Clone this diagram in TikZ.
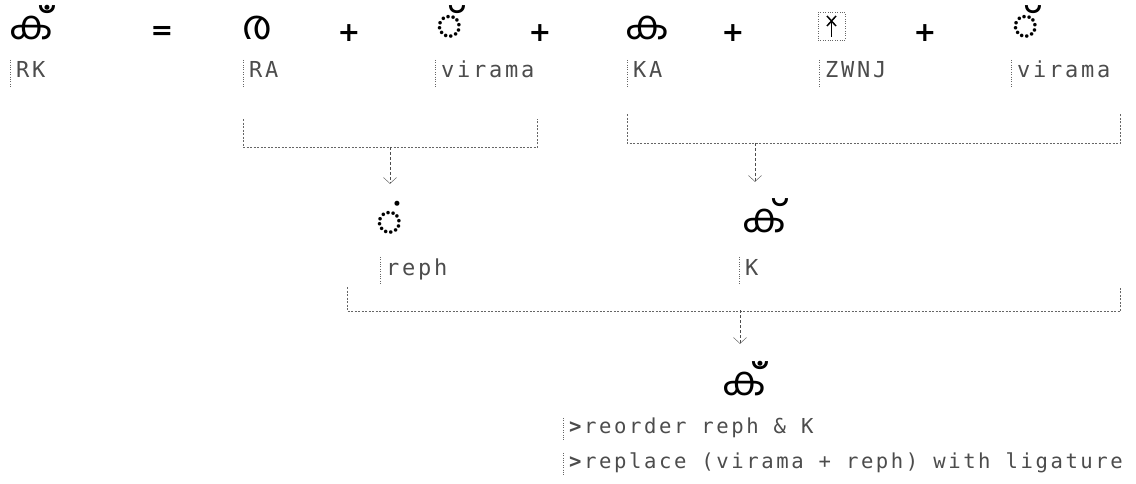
\documentclass[tikz,border=0pt]{standalone}
\usepackage{fontspec}
\usetikzlibrary{arrows.meta}
\newfontfamily\mlfont[Script=Malayalam]{Hind Kochi}
\newfontfamily\monofont[LetterSpace=12.5]{DejaVu Sans Mono}
\newfontfamily\symfont{DejaVu Sans}

\begin{document}
\begin{tikzpicture}[
    x=1pt, y=-1pt,
    glyph/.style={font=\mlfont\fontsize{40}{40}\selectfont, anchor=base west, inner sep=0pt, text height=30pt, text depth=2pt},
    op/.style={font=\symfont\bfseries\fontsize{27}{27}\selectfont, inner sep=0pt},
    lbl/.style={font=\monofont\fontsize{22}{22}\selectfont, text=black!70, anchor=base west, inner xsep=6pt, inner ysep=2pt, text height=16pt, text depth=7pt},
    note/.style={lbl, font=\monofont\fontsize{20.6}{20.6}\selectfont, text height=13pt, text depth=5pt},
    zwnj/.style={draw=black!60, dotted, minimum width=27pt, minimum height=28pt, inner sep=0pt},
    tick/.style={black!60, dotted},
    bracket/.style={black!60, dash pattern=on 2pt off 1.5pt},
    arrow/.style={black!70, dash pattern=on 3pt off 2pt, shorten >=21pt, -{Straight Barb[length=6pt,width=13pt]}}
  ]
    \useasboundingbox (0,0) rectangle (1136,484);

    % input sequence
    \node[glyph] (rk) at (9,40) {ൎക്};
    \node[op] (eq) at (162,33) {=};
    \node[glyph] (ra) at (242,40) {ര};
    \node[op] (plus1) at (349,33) {+};
    \node[glyph] (vir1) at (436,40) {◌്};
    \node[op] (plus2) at (540,33) {+};
    \node[glyph] (ka) at (625,40) {ക};
    \node[op] (plus3) at (733,33) {+};
    \node[zwnj] (zw) at (831.5,26) {};
    \node[op] (plus4) at (925,33) {+};
    \node[glyph] (vir2) at (1012,40) {◌്};
    \draw[line width=1.8pt] (zw.center) ++(0,-5) -- ++(0,16);
    \draw[line width=1.5pt] (zw.center) ++(-4.5,-10) -- ++(9,10) ++(0,-10) -- ++(-9,10);

    \node[lbl] (lrk) at (10,78) {RK};
    \node[lbl] (lra) at (243,78) {RA};
    \node[lbl] (lvir1) at (435,78) {virama};
    \node[lbl] (lka) at (627,78) {KA};
    \node[lbl] (lzw) at (819,78) {ZWNJ};
    \node[lbl] (lvir2) at (1011,78) {virama};

    % intermediate forms
    \node[glyph] (reph) at (376,235) {ൎ};
    \node[glyph] (k) at (742,233) {ക്};
    \node[lbl] (lreph) at (380,275) {reph};
    \node[lbl] (lk) at (739,275) {K};

    % result
    \node[glyph] (res) at (722,395) {ൎക്};
    \node[note] (n1) at (563,433) {\textbf{>}reorder reph \& K};
    \node[note] (n2) at (563,468) {\textbf{>}replace (virama + reph) with ligature};

    \draw[tick] (lrk.north west) -- (lrk.south west);
    \draw[tick] (lra.north west) -- (lra.south west);
    \draw[tick] (lvir1.north west) -- (lvir1.south west);
    \draw[tick] (lka.north west) -- (lka.south west);
    \draw[tick] (lzw.north west) -- (lzw.south west);
    \draw[tick] (lvir2.north west) -- (lvir2.south west);
    \draw[tick] (lreph.north west) -- (lreph.south west);
    \draw[tick] (lk.north west) -- (lk.south west);
    \draw[tick] (n1.north west) -- (n1.south west);
    \draw[tick] (n2.north west) -- (n2.south west);

    % brackets
    \draw[bracket] ([yshift=-32pt]lra.south west) -- ++(0,28) -| ([xshift=-3pt,yshift=-32pt]lvir1.south east);
    \draw[bracket] ([yshift=-27pt]lka.south west) -- ++(0,29) -| ([xshift=4pt,yshift=-27pt]lvir2.south east);
    \draw[bracket] ([xshift=-33pt,yshift=-3pt]lreph.south west) -- ++(0,24) -| ([xshift=4pt,yshift=-3pt]lvir2.south east |- lk.south);
    \coordinate (b1) at (390,147);
    \coordinate (b2) at (755,143);
    \coordinate (b3) at (740,310);
    \draw[arrow] (b1) -- (b1 |- reph.north);
    \draw[arrow] (b2) -- (b2 |- k.north);
    \draw[arrow] (b3) -- (b3 |- res.north);
\end{tikzpicture}
\end{document}
